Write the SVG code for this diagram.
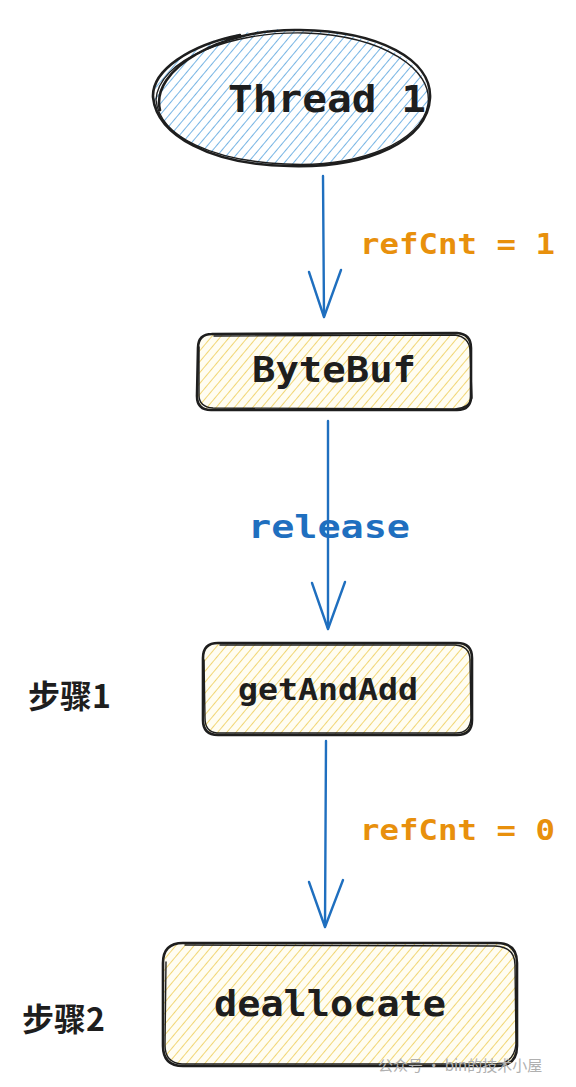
<svg xmlns="http://www.w3.org/2000/svg" width="576" height="1087" viewBox="0 0 576 1087">
<defs>
<pattern id="hb" width="7" height="7" patternUnits="userSpaceOnUse" patternTransform="rotate(40)">
<rect width="7" height="7" fill="#ffffff"/>
<line x1="0" y1="0" x2="0" y2="7" stroke="#5fa8e0" stroke-width="1.7"/>
</pattern>
<pattern id="hy" width="7" height="7" patternUnits="userSpaceOnUse" patternTransform="rotate(40)">
<rect width="7" height="7" fill="#fffdf2"/>
<line x1="0" y1="0" x2="0" y2="7" stroke="#efcf5e" stroke-width="1.7"/>
</pattern>
<style>
.edge{fill:none;stroke:#1e1e1e;stroke-width:2.6;stroke-linecap:round}
.edge2{fill:none;stroke:#1e1e1e;stroke-width:1.4;stroke-linecap:round}
.arr{fill:none;stroke:#1f6fbf;stroke-width:2.4;stroke-linecap:round;stroke-linejoin:round}
.mono{font-family:"DejaVu Sans Mono","Liberation Mono",monospace;font-weight:bold}
.lbl{fill:#1e1e1e;text-anchor:middle}
.orange{fill:#e8900c;font-size:29px}
.cjk{font-family:"Noto Sans CJK SC","Noto Sans",sans-serif;font-weight:bold;fill:#1e1e1e;font-size:32px}
</style>
</defs>
<rect width="576" height="1087" fill="#ffffff"/>

<g id="connectors">
<path class="arr" d="M323 176 L324 316"/>
<path class="arr" d="M309 272 L324 317 L341 270"/>
<path class="arr" d="M328 421 L328 628"/>
<path class="arr" d="M312 583 L328 629 L345 582"/>
<path class="arr" d="M326 741 L325 926"/>
<path class="arr" d="M309 882 L325 927 L343 880"/>
<text class="mono orange" x="360" y="254" textLength="195" lengthAdjust="spacingAndGlyphs">refCnt = 1</text>
<text class="mono" x="329" y="538" text-anchor="middle" fill="#1f6fbf" font-size="32" textLength="162" lengthAdjust="spacingAndGlyphs">release</text>
<text class="mono orange" x="360" y="840" textLength="195" lengthAdjust="spacingAndGlyphs">refCnt = 0</text>
</g>

<g id="thread1">
<ellipse cx="291" cy="97" rx="138" ry="68" fill="url(#hb)"/>
<path class="edge" d="M160 110 C150 70 220 28 300 30 C380 31 432 60 430 98 C428 140 370 168 290 166 C210 165 157 135 153 97 C152 70 190 45 240 35"/>
<path class="edge2" d="M156 100 C158 60 230 31 305 33 C385 36 433 70 428 104 C422 142 360 168 285 164 C215 161 160 138 156 100"/>
<text class="mono lbl" x="327" y="112" font-size="38" textLength="198" lengthAdjust="spacingAndGlyphs">Thread 1</text>
</g>

<g id="bytebuf">
<rect x="197" y="334" width="274" height="76" rx="14" fill="url(#hy)"/>
<path class="edge" d="M212 334 L457 333 Q471 334 471 348 L471 396 Q471 410 457 410 L211 410 Q197 410 197 396 L198 348 Q198 334 212 334"/>
<path class="edge2" d="M214 336 L455 335 Q469 337 470 350 L472 398 Q469 408 455 409 L213 408 Q199 407 199 395 L199 347"/>
<text class="mono lbl" x="334" y="382" font-size="36" textLength="164" lengthAdjust="spacingAndGlyphs">ByteBuf</text>
</g>

<g id="getandadd">
<rect x="203" y="643" width="269" height="92" rx="15" fill="url(#hy)"/>
<path class="edge" d="M218 643 L457 643 Q472 643 472 658 L472 720 Q472 735 457 735 L218 735 Q203 735 203 720 L203 658 Q203 643 218 643"/>
<path class="edge2" d="M220 645 L455 645 Q470 646 470 660 L471 718 Q470 733 456 733 L217 733 Q205 732 205 718 L204 660"/>
<text class="mono lbl" x="328" y="700" font-size="30" textLength="180" lengthAdjust="spacingAndGlyphs">getAndAdd</text>
</g>

<g id="deallocate">
<rect x="163" y="943" width="354" height="123" rx="20" fill="url(#hy)"/>
<path class="edge" d="M183 943 L497 943 Q517 943 517 963 L517 1046 Q517 1066 497 1066 L183 1066 Q163 1066 163 1046 L163 963 Q163 943 183 943"/>
<path class="edge2" d="M185 945 L495 946 Q515 947 515 965 L516 1044 Q514 1064 495 1064 L182 1064 Q165 1063 165 1045 L166 962"/>
<text class="mono lbl" x="330" y="1016" font-size="36" textLength="232" lengthAdjust="spacingAndGlyphs">deallocate</text>
</g>

<g id="step1"><text class="cjk" x="28" y="708">步骤1</text></g>
<g id="step2"><text class="cjk" x="22" y="1031">步骤2</text></g>
<g id="watermark"><text x="378" y="1071" font-family="Noto Sans CJK SC, sans-serif" font-size="15" fill="#b0b0b0">公众号 · bin的技术小屋</text></g>
</svg>
